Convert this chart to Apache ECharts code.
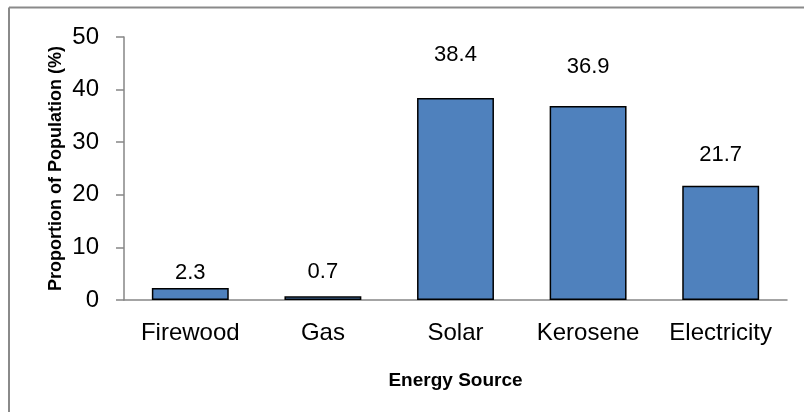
<!DOCTYPE html>
<html>
<head>
<meta charset="utf-8">
<style>
  html, body { margin: 0; padding: 0; background: #fff; }
  #chart { width: 804px; height: 412px; }
</style>
<script src="https://cdn.jsdelivr.net/npm/echarts@6/dist/echarts.min.js"></script>
</head>
<body>
<div id="chart"></div>
<script>
// Household lighting energy sources
const categories = ['Firewood', 'Gas', 'Solar', 'Kerosene', 'Electricity'];
const shares = [2.3, 0.7, 38.4, 36.9, 21.7];
const yTicks = [0, 10, 20, 30, 40, 50];

// Gap between each bar top and its value label (px)
const labelLift = [4, 13, 32, 28, 20];

const FONT = "'Liberation Sans Narrow', 'Arial Narrow', 'Liberation Sans', Arial, sans-serif";
const AXIS_GREY = '#868686';

const chart = echarts.init(document.getElementById('chart'), null, { renderer: 'canvas' });

chart.setOption({
  animation: false,
  backgroundColor: '#fff',
  textStyle: { fontFamily: FONT, color: '#000' },
  grid: { left: 124, right: 17, top: 37, bottom: 112 },
  xAxis: {
    type: 'category',
    data: categories,
    name: 'Energy Source',
    nameLocation: 'middle',
    nameGap: 71,
    nameMoveOverlap: false,
    nameTextStyle: { fontFamily: FONT, fontWeight: 'bold', fontSize: 19, color: '#000' },
    axisLine: { lineStyle: { color: AXIS_GREY, width: 1.5 } },
    axisTick: { show: false },
    axisLabel: { interval: 0, fontFamily: FONT, fontSize: 24, color: '#000', margin: 21 }
  },
  yAxis: {
    type: 'value',
    min: yTicks[0],
    max: yTicks[yTicks.length - 1],
    interval: yTicks[1] - yTicks[0],
    name: 'Proportion of Population (%)',
    nameLocation: 'middle',
    nameGap: 59,
    nameMoveOverlap: false,
    nameTextStyle: { fontFamily: FONT, fontWeight: 'bold', fontSize: 18, color: '#000' },
    axisLine: { show: true, lineStyle: { color: AXIS_GREY, width: 1.5 } },
    axisTick: { show: true, length: 8, lineStyle: { color: AXIS_GREY, width: 1.5 } },
    splitLine: { show: false },
    axisLabel: { fontFamily: FONT, fontSize: 24, color: '#000', margin: 25 }
  },
  series: [{
    type: 'bar',
    barCategoryGap: '42%',
    data: shares.map((v, i) => ({
      value: v,
      label: { distance: labelLift[i] }
    })),
    itemStyle: { color: '#4F81BD', borderColor: '#000', borderWidth: 1.5 },
    label: {
      show: true,
      position: 'top',
      fontFamily: FONT,
      fontSize: 22,
      color: '#000'
    }
  }],
  graphic: [
    { type: 'line', shape: { x1: 9, y1: 7.5, x2: 804, y2: 7.5 }, style: { stroke: '#8a8a8a', lineWidth: 2 }, silent: true },
    { type: 'line', shape: { x1: 9, y1: 7.5, x2: 9, y2: 412 }, style: { stroke: '#8a8a8a', lineWidth: 2 }, silent: true }
  ]
});
</script>
</body>
</html>
